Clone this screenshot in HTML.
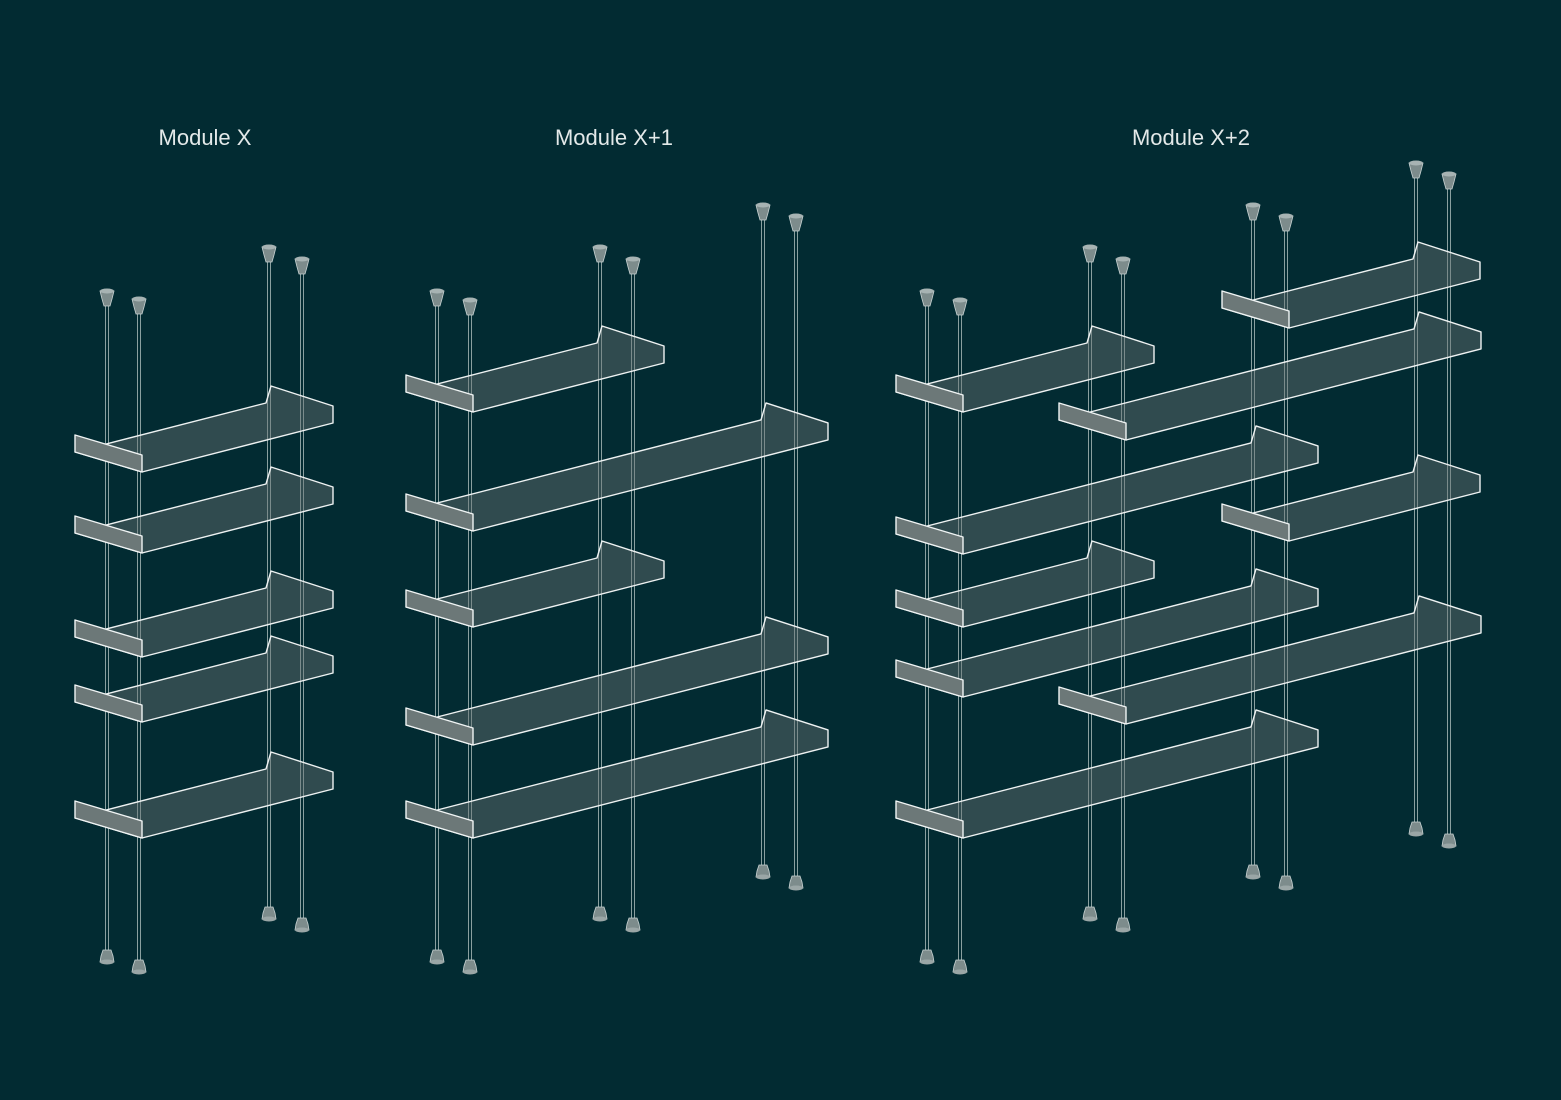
<!DOCTYPE html>
<html><head><meta charset="utf-8"><style>
html,body{margin:0;padding:0;background:#022b32;}
svg{display:block}
</style></head><body>
<svg id="s" width="1561" height="1100" viewBox="0 0 1561 1100" xmlns="http://www.w3.org/2000/svg">
<rect width="1561" height="1100" fill="#022b32"/>
<g font-family="Liberation Sans, sans-serif" font-size="22" fill="#e3e9e9" text-anchor="middle">
<text x="205" y="145">Module X</text>
<text x="614" y="145">Module X+1</text>
<text x="1191" y="145">Module X+2</text>
</g>
<g id="poles"></g>
<g id="shelves"></g>
</svg>
<script>
var NS="http://www.w3.org/2000/svg";
function el(p,t,a){var e=document.createElementNS(NS,t);for(var k in a)e.setAttribute(k,a[k]);p.appendChild(e);return e;}
var P=document.getElementById('poles'),S=document.getElementById('shelves');
var poles=[[107,296,958],[139,304,968],[269,252,915],[302,264,926],
[437,296,958],[470,305,968],[600,252,915],[633,264,926],[763,210,873],[796,221,884],
[927,296,958],[960,305,968],[1090,252,915],[1123,264,926],[1253,210,873],[1286,221,884],[1416,168,830],[1449,179,842]];
poles.forEach(function(p){
 var x=p[0],t=p[1],b=p[2];
 el(P,'line',{x1:x-1.5,y1:t+10,x2:x-1.5,y2:b-8,stroke:'#8aa0a0','stroke-width':1});
 el(P,'line',{x1:x+1.5,y1:t+10,x2:x+1.5,y2:b-8,stroke:'#8aa0a0','stroke-width':1});
 el(P,'path',{d:'M'+(x-7)+' '+(t-5)+' L'+(x+7)+' '+(t-5)+' L'+(x+5)+' '+(t+3)+' L'+(x+3)+' '+(t+10)+' L'+(x-3)+' '+(t+10)+' L'+(x-5)+' '+(t+3)+'Z',fill:'#7d8c8c',stroke:'#c8d2d2','stroke-width':0.8});
 el(P,'ellipse',{cx:x,cy:t-5,rx:7,ry:2.5,fill:'#a7b3b3'});
 el(P,'path',{d:'M'+(x-4)+' '+(b-8)+' L'+(x+4)+' '+(b-8)+' L'+(x+6)+' '+(b-2)+' L'+(x+7)+' '+(b+4)+' L'+(x-7)+' '+(b+4)+' L'+(x-6)+' '+(b-2)+'Z',fill:'#7d8c8c',stroke:'#c8d2d2','stroke-width':0.8});
 el(P,'ellipse',{cx:x,cy:b+4,rx:7,ry:2.5,fill:'#9aa6a6'});
});
var SH=191,LG=355;
var shelves=[[142,472,SH],[142,553,SH],[142,657,SH],[142,722,SH],[142,838,SH],
[473,412,SH],[473,531,LG],[473,627,SH],[473,745,LG],[473,838,LG],
[1289,328,SH],[963,412,SH],[1126,440,LG],[963,554,LG],[1289,541,SH],[963,627,SH],[963,697,LG],[1126,724,LG],[963,838,LG]];
shelves.sort(function(a,b){return a[1]-b[1];});
function pt(a){return a[0]+','+a[1];}
shelves.forEach(function(s){
 var ax=s[0],ay=s[1],L=s[2];
 var lx=L,ly=-L*49/191,dx=-67,dy=-20,h=17;
 var A=[ax,ay],B=[ax+lx,ay+ly],BD=[B[0]+dx,B[1]+dy],AD=[ax+dx,ay+dy];
 var g=el(S,'g',{});
 el(g,'polygon',{points:[pt(A),pt(B),pt([B[0],B[1]-h]),pt([BD[0]+5,BD[1]-h]),pt(BD),pt(AD)].join(' '),fill:'rgba(105,115,115,0.45)',stroke:'#eef2f2','stroke-width':1.4,'stroke-linejoin':'round'});
 el(g,'polygon',{points:[pt(A),pt([A[0],A[1]-h]),pt([AD[0],AD[1]-h]),pt(AD)].join(' '),fill:'#6c7878',stroke:'#f0f4f4','stroke-width':1.4,'stroke-linejoin':'round'});
 // clips
 [[BD[0]+5,BD[1]+1],[BD[0]+38,BD[1]+11]].forEach(function(c){
  if(L>200)return;
 });
});
</script>
</body></html>
